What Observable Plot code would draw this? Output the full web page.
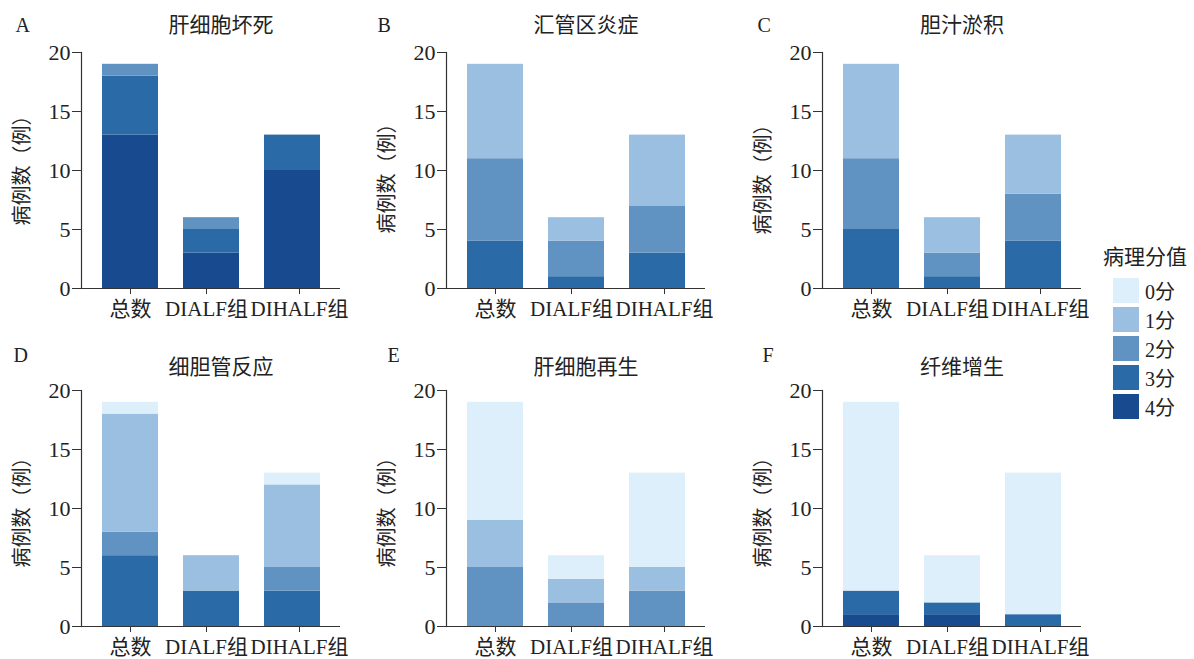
<!DOCTYPE html>
<html>
<head>
<meta charset="utf-8">
<script src="https://cdn.jsdelivr.net/npm/d3@7"></script>
<script src="https://cdn.jsdelivr.net/npm/@observablehq/plot@0.6"></script>
<style>
  html, body { margin: 0; padding: 0; background: #fff; overflow: hidden; }
  #fig { position: relative; width: 1194px; height: 659px; background: #fff; }
  .panel { position: absolute; }
  .legend { position: absolute; left: 1103px; top: 240px; color: #222; }
  .legend .ttl { font-family: "Noto Sans CJK SC", sans-serif; font-size: 21px; line-height: 30px; white-space: nowrap; margin-bottom: 6px; }
  .legend .item { display: flex; align-items: center; height: 29px; margin-left: 10px; }
  .legend .sw { width: 26px; height: 25px; margin-right: 6px; }
  .legend .lb { font-family: "Liberation Serif", "Noto Sans CJK SC", serif; font-size: 20px; }
</style>
</head>
<body>
<div id="fig"></div>
<script>
// ---- data ----
const groups = ["总数", "DIALF组", "DIHALF组"];
const scores = ["0分", "1分", "2分", "3分", "4分"];
const scoreColors = ["#ddeffa", "#9bbfe0", "#6092c2", "#2a6ba7", "#174a8f"];
const panelLetters = ["A", "B", "C", "D", "E", "F"];
const panelTitles = ["肝细胞坏死", "汇管区炎症", "胆汁淤积", "细胆管反应", "肝细胞再生", "纤维增生"];
const yTicks = [0, 5, 10, 15, 20];
const yLabel = "病例数（例）";
const legendTitle = "病理分值";

// counts per group (总数, DIALF组, DIHALF组), scores 0分..4分
const necrosis           = [[0, 0, 1, 5, 13], [0, 0, 1, 2, 3], [0, 0, 0, 3, 10]];
const portalInflammation = [[0, 8, 7, 4, 0],  [0, 2, 3, 1, 0], [0, 6, 4, 3, 0]];
const cholestasis        = [[0, 8, 6, 5, 0],  [0, 3, 2, 1, 0], [0, 5, 4, 4, 0]];
const ductularReaction   = [[1, 10, 2, 6, 0], [0, 3, 0, 3, 0], [1, 7, 2, 3, 0]];
const regeneration       = [[10, 4, 5, 0, 0], [2, 2, 2, 0, 0], [8, 2, 3, 0, 0]];
const fibrosis           = [[16, 0, 0, 2, 1], [4, 0, 0, 1, 1], [12, 0, 0, 1, 0]];

const panelData = [necrosis, portalInflammation, cholestasis, ductularReaction, regeneration, fibrosis];

// ---- layout ----
const layout = [
  {left: 0,   top: 0,   titleDy: -27, letterDx: -66, letterDy: -27, labelDy: -5},
  {left: 365, top: 0,   titleDy: -27, letterDx: -69, letterDy: -27, labelDy: 3},
  {left: 741, top: 0,   titleDy: -27, letterDx: -65, letterDy: -27, labelDy: 4},
  {left: 0,   top: 338, titleDy: -23, letterDx: -68, letterDy: -35, labelDy: -1},
  {left: 365, top: 338, titleDy: -23, letterDx: -59, letterDy: -35, labelDy: -1},
  {left: 741, top: 338, titleDy: -23, letterDx: -60, letterDy: -35, labelDy: -1}
];
const xLabelShift = [0, -5, 7];

const serif = "'Liberation Serif', 'Noto Sans CJK SC', serif";
const sans = "'Noto Sans CJK SC', sans-serif";
const fig = document.getElementById("fig");
const stackOrder = scores.slice().reverse();

panelData.forEach((mat, i) => {
  const rows = [];
  groups.forEach((g, gi) => {
    stackOrder.forEach(s => {
      rows.push({group: g, score: s, count: mat[gi][scores.indexOf(s)]});
    });
  });
  const L = layout[i];
  const chart = Plot.plot({
    width: 370,
    height: 320,
    marginLeft: 81,
    marginRight: 30,
    marginTop: 52,
    marginBottom: 32,
    style: {fontFamily: serif, fontSize: "21px", color: "#222", background: "transparent", overflow: "visible"},
    x: {domain: groups, paddingInner: 0.31, paddingOuter: 0.24, label: null},
    y: {domain: [0, 20], label: null},
    color: {domain: scores, range: scoreColors},
    marks: [
      Plot.barY(rows, {x: "group", y: "count", fill: "score", order: stackOrder}),
      Plot.ruleY([0], {stroke: "#333", strokeWidth: 1.2}),
      Plot.frame({anchor: "left", stroke: "#333", strokeWidth: 1.2}),
      Plot.axisY({ticks: yTicks, tickSize: 9, tickPadding: 2, label: null, stroke: "#333", fontSize: 22}),
      ...groups.map((g, gi) => Plot.axisX({ticks: [g], tickSize: 6, tickPadding: 7, label: null, stroke: "#333", fontSize: 21, dx: xLabelShift[gi]})),
      Plot.text([yLabel], {frameAnchor: "left", rotate: -90, textAnchor: "middle", lineAnchor: "middle", dx: -59, dy: L.labelDy, fontSize: 20, fontFamily: sans, fill: "#222"}),
      Plot.text([panelTitles[i]], {frameAnchor: "top", lineAnchor: "middle", dx: 10, dy: L.titleDy, fontSize: 21, fontFamily: sans, fill: "#222"}),
      Plot.text([panelLetters[i]], {frameAnchor: "top-left", textAnchor: "start", lineAnchor: "middle", dx: L.letterDx, dy: L.letterDy, fontSize: 20, fontFamily: serif, fill: "#222"})
    ]
  });
  chart.classList.add("panel");
  chart.style.left = L.left + "px";
  chart.style.top = L.top + "px";
  fig.appendChild(chart);
});

// legend
const leg = document.createElement("div");
leg.className = "legend";
const t = document.createElement("div");
t.className = "ttl";
t.textContent = legendTitle;
leg.appendChild(t);
scores.forEach((s, k) => {
  const it = document.createElement("div");
  it.className = "item";
  const sw = document.createElement("div");
  sw.className = "sw";
  sw.style.background = scoreColors[k];
  const lb = document.createElement("span");
  lb.className = "lb";
  lb.textContent = s;
  it.appendChild(sw);
  it.appendChild(lb);
  leg.appendChild(it);
});
fig.appendChild(leg);
</script>
</body>
</html>
